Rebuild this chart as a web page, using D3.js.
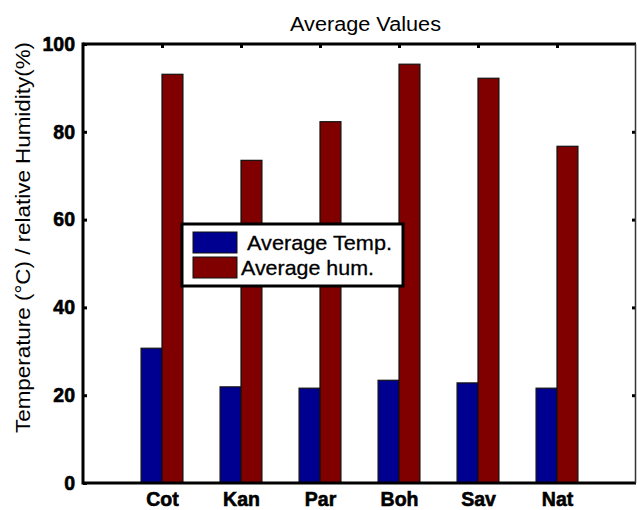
<!DOCTYPE html>
<html><head><meta charset="utf-8">
<script src="https://cdn.jsdelivr.net/npm/d3@7"></script>
<style>body{margin:0;background:#fff}svg{display:block}</style>
</head><body>
<script>
const categories = ["Cot","Kan","Par","Boh","Sav","Nat"];
const avgTemp = [30.7, 21.9, 21.6, 23.4, 22.8, 21.6];
const avgHum = [93.1, 73.5, 82.3, 95.4, 92.2, 76.7];
const seriesNames = ["Average Temp.", "Average hum."];
const seriesColors = ["#000090", "#800000"];
const yTicks = [0, 20, 40, 60, 80, 100];

const W = 637, H = 510;
const m = {left: 83, right: 1, top: 44, bottom: 27};
const svg = d3.select("body").append("svg").attr("width", W).attr("height", H);

const x = d3.scaleLinear().domain([0, categories.length + 1]).range([m.left, W - m.right]);
const y = d3.scaleLinear().domain([0, 100]).range([H - m.bottom, m.top]);
const bw = (x(1) - x(0)) * 0.265;

const series = [avgTemp, avgHum];
series.forEach((vals, si) => {
  svg.append("g").selectAll("rect").data(vals).enter().append("rect")
    .attr("x", (d, i) => x(i + 1) + (si === 0 ? -bw : 0))
    .attr("y", d => y(d))
    .attr("width", bw)
    .attr("height", d => y(0) - y(d))
    .attr("fill", seriesColors[si])
    .attr("stroke", "#111").attr("stroke-width", 1.2);
});

// axes
const font = "'Liberation Sans', Arial, sans-serif";
const gLeft = svg.append("g").attr("transform", `translate(${m.left},0)`)
  .call(d3.axisLeft(y).tickValues(yTicks).tickSize(-4).tickPadding(8).tickFormat(d3.format("d")));
gLeft.select(".domain").remove();
gLeft.selectAll(".tick line").attr("stroke", "#000").attr("stroke-width", 3);
gLeft.selectAll(".tick text").attr("font-family", font).attr("font-weight", "bold").attr("font-size", 19.5)
  .attr("fill", "#000").attr("stroke", "#000").attr("stroke-width", 0.6);

const gRight = svg.append("g").attr("transform", `translate(${W - m.right},0)`)
  .call(d3.axisRight(y).tickValues(yTicks.slice(1, 5)).tickSize(-4).tickFormat(""));
gRight.select(".domain").remove();
gRight.selectAll(".tick line").attr("stroke", "#000").attr("stroke-width", 3);

const gTop = svg.append("g").attr("transform", `translate(0,${m.top})`)
  .call(d3.axisTop(x).tickValues(d3.range(1, categories.length + 1)).tickSize(-4).tickFormat(""));
gTop.select(".domain").remove();
gTop.selectAll(".tick line").attr("stroke", "#000").attr("stroke-width", 3);

const gBottom = svg.append("g").attr("transform", `translate(0,${H - m.bottom})`)
  .call(d3.axisBottom(x).tickValues(d3.range(1, categories.length + 1)).tickSize(0).tickPadding(9)
    .tickFormat((d) => categories[d - 1]));
gBottom.select(".domain").remove();
gBottom.selectAll(".tick text").attr("font-family", font).attr("font-weight", "bold").attr("font-size", 19.5)
  .attr("fill", "#000").attr("stroke", "#000").attr("stroke-width", 0.6);

// frame
svg.append("line").attr("x1", x(0)).attr("x2", W - m.right).attr("y1", y(100)).attr("y2", y(100)).attr("stroke", "#000").attr("stroke-width", 3);
svg.append("line").attr("x1", x(0)).attr("x2", W - m.right).attr("y1", y(0)).attr("y2", y(0)).attr("stroke", "#000").attr("stroke-width", 3);
svg.append("line").attr("x1", x(0)).attr("x2", x(0)).attr("y1", y(100) - 1.5).attr("y2", y(0) + 1.5).attr("stroke", "#000").attr("stroke-width", 3);
svg.append("line").attr("x1", W - m.right - 0.5).attr("x2", W - m.right - 0.5).attr("y1", y(100)).attr("y2", y(0)).attr("stroke", "#333").attr("stroke-width", 1.5);

// title
svg.append("text").attr("x", 365.5).attr("y", 31).attr("text-anchor", "middle")
  .attr("font-family", font).attr("font-size", 20).attr("fill", "#000")
  .attr("textLength", 151).attr("lengthAdjust", "spacingAndGlyphs").text("Average Values");

// y label
svg.append("text").attr("transform", `translate(30,${(42 + 433) / 2}) rotate(-90)`)
  .attr("text-anchor", "middle").attr("font-family", font).attr("font-size", 20.5).attr("fill", "#000")
  .attr("textLength", 391).attr("lengthAdjust", "spacingAndGlyphs")
  .text("Temperature (°C) / relative Humidity(%)");

// legend
const lg = svg.append("g");
lg.append("rect").attr("x", 182).attr("y", 224).attr("width", 221).attr("height", 62)
  .attr("fill", "#fff").attr("stroke", "#000").attr("stroke-width", 3);
const legRows = [{sy: 232, tx: 247, ty: 250, w: 145}, {sy: 257, tx: 241, ty: 275, w: 133}];
seriesNames.forEach((n, i) => {
  lg.append("rect").attr("x", 193).attr("y", legRows[i].sy).attr("width", 44).attr("height", 21)
    .attr("fill", seriesColors[i]).attr("stroke", "#111").attr("stroke-width", 1);
  lg.append("text").attr("x", legRows[i].tx).attr("y", legRows[i].ty)
    .attr("font-family", font).attr("font-size", 21).attr("fill", "#000")
    .attr("stroke", "#000").attr("stroke-width", 0.3)
    .attr("textLength", legRows[i].w).attr("lengthAdjust", "spacingAndGlyphs").text(n);
});
</script>
</body></html>
